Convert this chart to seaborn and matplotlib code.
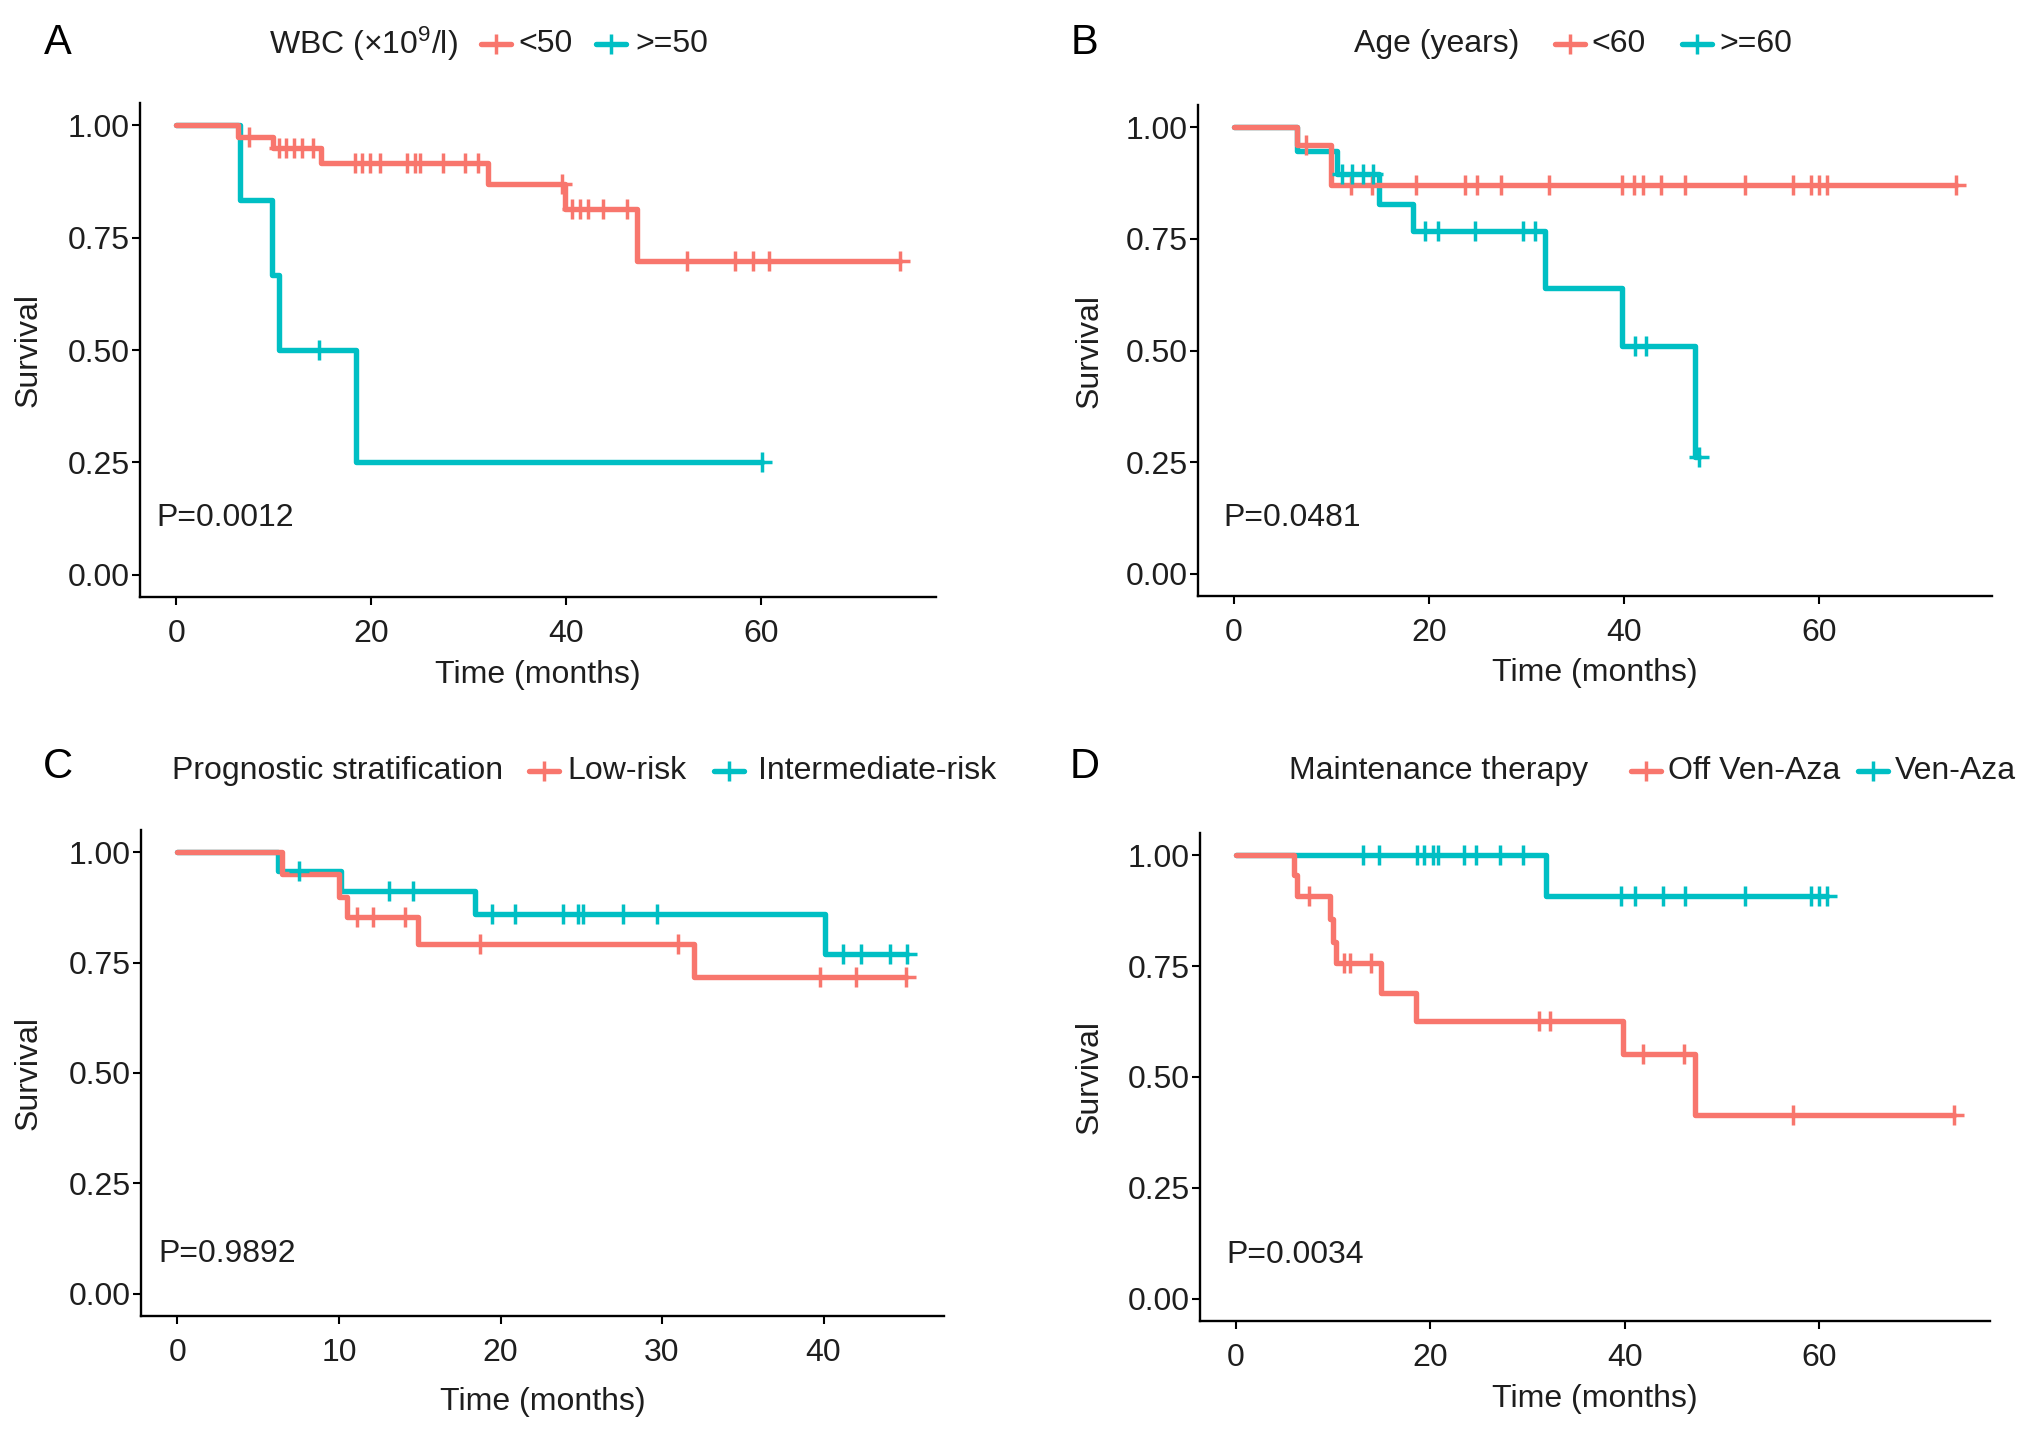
import numpy as np
import pandas as pd
import matplotlib
matplotlib.use("Agg")
import matplotlib.pyplot as plt
import seaborn as sns
from matplotlib.lines import Line2D

RED = "#F8766D"
TEAL = "#00BFC4"

# ---------------- data ----------------
# Panel A: WBC
A_title = "WBC (×10$^{9}$/l)"
A_labels = ["<50", ">=50"]
A_p = "P=0.0012"
A_red_evt_t = [6.3, 9.9, 14.8, 32.0, 39.9, 47.3]
A_red_evt_s = [0.975, 0.949, 0.917, 0.869, 0.813, 0.698]
A_red_cens = [7.5, 10.5, 11.3, 12.1, 12.9, 14.0, 18.3, 19.1, 19.9, 20.9, 23.7, 24.5,
              25.0, 27.4, 29.6, 30.9, 39.6, 40.6, 41.4, 42.2, 43.8, 46.2, 52.4, 57.3,
              59.1, 60.8, 74.2]
A_teal_evt_t = [6.5, 9.8, 10.5, 18.4]
A_teal_evt_s = [0.833, 0.667, 0.500, 0.250]
A_teal_cens = [14.6, 60.1]

# Panel B: Age
B_title = "Age (years)"
B_labels = ["<60", ">=60"]
B_p = "P=0.0481"
B_red_evt_t = [6.5, 9.9]
B_red_evt_s = [0.960, 0.870]
B_red_cens = [7.4, 12.0, 14.1, 18.6, 23.7, 24.9, 27.4, 32.3, 39.8, 41.0, 41.9, 43.8,
              46.2, 52.4, 57.3, 59.1, 60.0, 60.8, 74.0]
B_teal_evt_t = [6.5, 10.6, 14.9, 18.3, 31.9, 39.8, 47.3]
B_teal_evt_s = [0.947, 0.896, 0.828, 0.767, 0.639, 0.511, 0.262]
B_teal_cens = [11.1, 12.1, 13.2, 14.2, 19.6, 20.9, 24.7, 29.6, 30.9, 41.1, 42.2, 47.7]

# Panel C: Prognostic stratification
C_title = "Prognostic stratification"
C_labels = ["Low-risk", "Intermediate-risk"]
C_p = "P=0.9892"
C_red_evt_t = [6.5, 10.0, 10.5, 14.9, 32.0]
C_red_evt_s = [0.950, 0.898, 0.853, 0.791, 0.717]
C_red_cens = [11.1, 12.1, 14.1, 18.7, 31.0, 39.8, 42.0, 45.1]
C_teal_evt_t = [6.2, 10.1, 18.4, 40.1]
C_teal_evt_s = [0.958, 0.913, 0.861, 0.769]
C_teal_cens = [7.5, 13.1, 14.6, 19.5, 20.9, 23.9, 24.8, 25.1, 27.6, 29.7, 41.2, 42.3,
               44.1, 45.2]

# Panel D: Maintenance therapy
D_title = "Maintenance therapy"
D_labels = ["Off Ven-Aza", "Ven-Aza"]
D_p = "P=0.0034"
D_red_evt_t = [6.0, 6.3, 9.7, 10.0, 10.3, 14.9, 18.5, 39.8, 47.2]
D_red_evt_s = [0.955, 0.909, 0.857, 0.805, 0.757, 0.690, 0.627, 0.551, 0.414]
D_red_cens = [7.5, 11.1, 11.7, 13.9, 31.2, 32.3, 41.9, 46.1, 57.3, 73.9]
D_teal_evt_t = [31.9]
D_teal_evt_s = [0.909]
D_teal_cens = [13.1, 14.7, 18.6, 19.4, 20.3, 20.8, 23.5, 24.7, 27.2, 29.5, 39.6, 41.1,
               43.9, 46.2, 52.4, 59.2, 60.0, 60.8]

x_ticks_60 = [0, 20, 40, 60]
x_ticks_40 = [0, 10, 20, 30, 40]
y_ticks = [0.0, 0.25, 0.5, 0.75, 1.0]
y_ticklabels = ["0.00", "0.25", "0.50", "0.75", "1.00"]

# ---------------- helpers ----------------
def km_frames(label, evt_t, evt_s, cens):
    last = max(max(evt_t), max(cens))
    t = [0.0] + list(evt_t)
    s = [1.0] + list(evt_s)
    if last > t[-1]:
        t.append(last)
        s.append(s[-1])
    curve = pd.DataFrame({"time": t, "surv": s, "group": label})
    et = np.array([0.0] + list(evt_t))
    es = np.array([1.0] + list(evt_s))
    cy = [es[np.searchsorted(et, c, side="right") - 1] for c in cens]
    marks = pd.DataFrame({"time": cens, "surv": cy, "group": label})
    return curve, marks

sns.set_theme(style="ticks")
plt.rcParams["font.family"] = ["Liberation Sans", "DejaVu Sans"]
plt.rcParams["mathtext.fontset"] = "custom"
plt.rcParams["mathtext.rm"] = "Liberation Sans"
plt.rcParams["mathtext.it"] = "Liberation Sans:italic"
plt.rcParams["mathtext.default"] = "regular"

W, H = 2031, 1430
fig = plt.figure(figsize=(W / 100, H / 100), dpi=100)
fig.patch.set_facecolor("white")

FS = 23
LW = 3.9
MS = 14
MEW = 2.5
TXT = "#1e1e1e"

panels = [
    dict(letter="A", rect=(140, 936, 103, 597), title=A_title, labels=A_labels, p=A_p,
         red=(A_red_evt_t, A_red_evt_s, A_red_cens), teal=(A_teal_evt_t, A_teal_evt_s, A_teal_cens),
         xticks=x_ticks_60, p_xy=(-2.0, 0.127), ylab_x=29, xlab_y=675,
         leg_y=44, title_x=269, keys=(496, 611), texts=(518, 635), letter_xy=(58, 43)),
    dict(letter="B", rect=(1198, 1992, 105, 596), title=B_title, labels=B_labels, p=B_p,
         red=(B_red_evt_t, B_red_evt_s, B_red_cens), teal=(B_teal_evt_t, B_teal_evt_s, B_teal_cens),
         xticks=x_ticks_60, p_xy=(-1.1, 0.125), ylab_x=1090, xlab_y=673,
         leg_y=44, title_x=1354, keys=(1570, 1697), texts=(1591, 1719), letter_xy=(1085, 43)),
    dict(letter="C", rect=(141, 944, 830, 1316), title=C_title, labels=C_labels, p=C_p,
         red=(C_red_evt_t, C_red_evt_s, C_red_cens), teal=(C_teal_evt_t, C_teal_evt_s, C_teal_cens),
         xticks=x_ticks_40, p_xy=(-1.2, 0.091), ylab_x=29, xlab_y=1402,
         leg_y=771, title_x=172, keys=(544, 729), texts=(567, 758), letter_xy=(58, 767)),
    dict(letter="D", rect=(1200, 1990, 833, 1321), title=D_title, labels=D_labels, p=D_p,
         red=(D_red_evt_t, D_red_evt_s, D_red_cens), teal=(D_teal_evt_t, D_teal_evt_s, D_teal_cens),
         xticks=x_ticks_60, p_xy=(-0.95, 0.099), ylab_x=1090, xlab_y=1399,
         leg_y=771, title_x=1289, keys=(1646, 1873), texts=(1668, 1895), letter_xy=(1085, 767)),
]

for P in panels:
    L, R, T, B = P["rect"]
    ax = fig.add_axes([L / W, 1 - B / H, (R - L) / W, (B - T) / H])
    c1, m1 = km_frames(P["labels"][0], *P["red"])
    c2, m2 = km_frames(P["labels"][1], *P["teal"])
    curves = pd.concat([c1, c2], ignore_index=True)
    marks = pd.concat([m1, m2], ignore_index=True)
    pal = {P["labels"][0]: RED, P["labels"][1]: TEAL}
    sns.lineplot(data=curves, x="time", y="surv", hue="group", palette=pal,
                 hue_order=P["labels"][::-1], estimator=None, sort=False,
                 drawstyle="steps-post", linewidth=LW, legend=False, ax=ax)
    for g in P["labels"]:
        sub = marks[marks["group"] == g]
        ax.plot(sub["time"], sub["surv"], linestyle="none", marker="+",
                markersize=MS, markeredgewidth=MEW, color=pal[g])
    tmax = max(curves["time"].max(), marks["time"].max())
    ax.set_xlim(-0.05 * tmax, 1.05 * tmax)
    ax.set_ylim(-0.05, 1.05)
    ax.set_xticks(P["xticks"])
    ax.set_yticks(y_ticks)
    ax.set_yticklabels(y_ticklabels)
    ax.tick_params(axis="both", labelsize=FS, length=6, width=1.5, color="black",
                   labelcolor=TXT)
    ax.tick_params(axis="x", pad=10)
    ax.tick_params(axis="y", pad=1.5)
    for sp in ["top", "right"]:
        ax.spines[sp].set_visible(False)
    for sp in ["left", "bottom"]:
        ax.spines[sp].set_linewidth(1.7)
        ax.spines[sp].set_color("black")
    ax.set_xlabel("")
    ax.set_ylabel("")
    # axis titles placed at measured centres
    fig.text(P["ylab_x"] / W, 1 - ((T + B) / 2) / H, "Survival", rotation=90,
             fontsize=FS, color=TXT, ha="center", va="center")
    fig.text(((L + R) / 2) / W, 1 - P["xlab_y"] / H, "Time (months)",
             fontsize=FS, color=TXT, ha="center", va="center")
    ax.text(P["p_xy"][0], P["p_xy"][1], P["p"], fontsize=FS, color=TXT,
            ha="left", va="center")
    ax.set_facecolor("white")

    # legend on top
    yl = 1 - P["leg_y"] / H
    fig.text(P["title_x"] / W, yl, P["title"], fontsize=FS, color=TXT,
             ha="left", va="center")
    for kx, tx, lab, col in zip(P["keys"], P["texts"], P["labels"], [RED, TEAL]):
        fig.add_artist(Line2D([(kx - 15) / W, (kx + 15) / W], [yl, yl], color=col,
                              linewidth=LW, transform=fig.transFigure))
        fig.add_artist(Line2D([kx / W], [yl], color=col, marker="+", markersize=MS,
                              markeredgewidth=MEW, linestyle="none",
                              transform=fig.transFigure))
        fig.text(tx / W, yl, lab, fontsize=FS, color=TXT, ha="left", va="center")
    fig.text(P["letter_xy"][0] / W, 1 - P["letter_xy"][1] / H, P["letter"],
             fontsize=30, color="black", ha="center", va="center")

fig.savefig("out.png", dpi=100, facecolor="white")
